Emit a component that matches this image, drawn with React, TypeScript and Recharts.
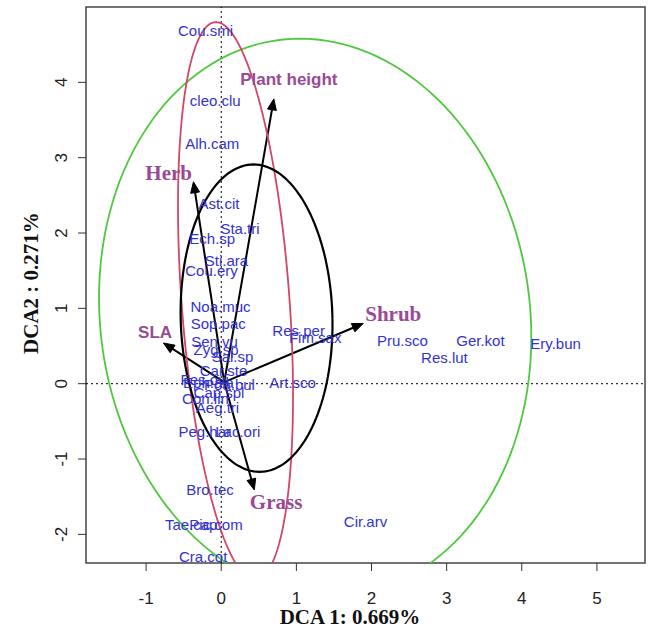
import React from 'react';
import { ScatterChart, Scatter, XAxis, YAxis, ReferenceLine, ReferenceArea } from 'recharts';

// ---- axes ----
const xDomain = [-1.8, 5.64];
const yDomain = [-2.38, 5.0];
const xTicks = [-1, 0, 1, 2, 3, 4, 5];
const yTicks = [-2, -1, 0, 1, 2, 3, 4];

// ---- species scores (label centres) ----
const speciesNames = [
  'Cou.smi', 'cleo.clu', 'Alh.cam', 'Ast.cit', 'Sta.tri', 'Ech.sp', 'Sti.ara', 'Cou.ery',
  'Noa.muc', 'Sop.pac', 'Sen.vu', 'Zyg.sp', 'Sal.sp', 'Car.ste', 'Fes.ovi', 'Eph.ala',
  'Poa.bul', 'Cap.spl', 'Con.lin', 'Aeg.tri', 'Peg.har', 'Lac.ori', 'Bro.tec', 'Tae.cap',
  'Pic.com', 'Cra.cot', 'Res.per', 'Fim.sax', 'Art.sco', 'Pru.sco', 'Ger.kot', 'Res.lut',
  'Ery.bun', 'Cir.arv',
];
const speciesX = [
  -0.21, -0.08, -0.12, -0.03, 0.25, -0.12, 0.07, -0.13,
  -0.01, -0.04, -0.09, -0.07, 0.15, 0.03, -0.22, -0.17,
  0.11, -0.03, -0.21, -0.05, -0.22, 0.22, -0.15, -0.4,
  -0.07, -0.24, 1.03, 1.25, 0.95, 2.41, 3.45, 2.97,
  4.45, 1.92,
];
const speciesY = [
  4.69, 3.76, 3.19, 2.39, 2.06, 1.93, 1.63, 1.5,
  1.02, 0.8, 0.56, 0.46, 0.36, 0.17, 0.06, 0.01,
  -0.01, -0.12, -0.2, -0.32, -0.64, -0.64, -1.41, -1.87,
  -1.87, -2.3, 0.71, 0.61, 0.01, 0.57, 0.57, 0.35,
  0.54, -1.83,
];

// ---- trait vectors ----
const traitNames = ['Plant height', 'Herb', 'SLA', 'Shrub', 'Grass'];
const traitTipX = [0.7, -0.37, -0.77, 1.89, 0.44];
const traitTipY = [3.78, 2.68, 0.54, 0.8, -1.41];
const traitLabelX = [0.9, -0.7, -0.88, 2.29, 0.73];
const traitLabelY = [4.04, 2.79, 0.68, 0.92, -1.57];
const traitSerif = [false, true, false, true, true];
const arrowOrigin = { x: 0.04, y: 0.02 };

// ---- group ellipses (centre, half-axes, shear) ----
const ellipseColors = ['#4fc83f', '#d2466a', '#000000'];
const ellipseWidths = [1.8, 1.8, 2.2];
const ellipseCX = [1.25, 0.19, 0.47];
const ellipseCY = [0.88, 1.1, 0.87];
const ellipseA = [2.87, 0.72, 1.01];
const ellipseB = [3.7, 3.7, 2.04];
const ellipseC = [-0.2, -0.26, -0.04];

const species = speciesNames.map((name, i) => ({ name, x: speciesX[i], y: speciesY[i] }));
const traitLabels = traitNames.map((name, i) => ({
  name,
  x: traitLabelX[i],
  y: traitLabelY[i],
  serif: traitSerif[i],
}));

const ellipses = ellipseColors.map((color, k) => {
  const pts: { x: number; y: number }[] = [];
  const n = 160;
  for (let i = 0; i <= n; i++) {
    const t = (2 * Math.PI * i) / n;
    pts.push({
      x: ellipseCX[k] + ellipseA[k] * Math.cos(t) + ellipseC[k] * Math.sin(t),
      y: ellipseCY[k] + ellipseB[k] * Math.sin(t),
    });
  }
  return { color, width: ellipseWidths[k], pts };
});

const SANS = '"Liberation Sans", Arial, sans-serif';
const SERIF = '"Liberation Serif", "Times New Roman", serif';
const SPECIES_COLOR = '#3232d2';
const TRAIT_COLOR = '#9a4a95';

const Arrow = (props: any) => {
  const { x1, y1, x2, y2 } = props;
  const dx = x2 - x1;
  const dy = y2 - y1;
  const len = Math.sqrt(dx * dx + dy * dy) || 1;
  const ux = dx / len;
  const uy = dy / len;
  const hl = 11;
  const hw = 4.5;
  const bx = x2 - ux * hl;
  const by = y2 - uy * hl;
  const p1 = `${x2},${y2}`;
  const p2 = `${bx - uy * hw},${by + ux * hw}`;
  const p3 = `${bx + uy * hw},${by - ux * hw}`;
  return (
    <g>
      <line x1={x1} y1={y1} x2={bx} y2={by} stroke="#000" strokeWidth={2} />
      <polygon points={`${p1} ${p2} ${p3}`} fill="#000" stroke="#000" strokeWidth={1} />
    </g>
  );
};

const XTick = (props: any) => {
  const { x, payload } = props;
  return (
    <text x={x} y={598} textAnchor="middle" dominantBaseline="central" fontSize={17} fontFamily={SANS} fill="#222">
      {String(payload.value)}
    </text>
  );
};

const YTick = (props: any) => {
  const { y, payload } = props;
  return (
    <text
      x={62}
      y={y}
      transform={`rotate(-90 62 ${y})`}
      textAnchor="middle"
      dominantBaseline="central"
      fontSize={17}
      fontFamily={SANS}
      fill="#222"
    >
      {String(payload.value)}
    </text>
  );
};

const SpeciesLabel = (props: any) => {
  const { cx, cy, payload } = props;
  return (
    <text x={cx} y={cy} textAnchor="middle" dominantBaseline="central" fontSize={15} fontFamily={SANS} fill={SPECIES_COLOR}>
      {payload.name}
    </text>
  );
};

const TraitLabel = (props: any) => {
  const { cx, cy, payload } = props;
  return (
    <text
      x={cx}
      y={cy}
      textAnchor="middle"
      dominantBaseline="central"
      fontSize={payload.serif ? 21 : 17}
      fontWeight="bold"
      fontFamily={payload.serif ? SERIF : SANS}
      fill={TRAIT_COLOR}
    >
      {payload.name}
    </text>
  );
};

export default function App() {
  return (
    <div style={{ position: 'absolute', left: 0, top: 0, background: '#fff' }}>
      <ScatterChart width={654} height={629} margin={{ top: 7, right: 9, bottom: 0, left: 0 }}>
        <XAxis
          type="number"
          dataKey="x"
          domain={xDomain}
          ticks={xTicks}
          allowDataOverflow
          height={66}
          axisLine={false}
          tickLine={{ stroke: '#333' }}
          tickSize={8}
          tick={<XTick />}
          interval={0}
          label={{
            content: () => (
              <text x={350} y={617} textAnchor="middle" dominantBaseline="central" fontSize={21} fontWeight="bold" fontFamily={SERIF} fill="#111">
                DCA 1: 0.669%
              </text>
            ),
          }}
        />
        <YAxis
          type="number"
          dataKey="y"
          domain={yDomain}
          ticks={yTicks}
          allowDataOverflow
          width={86}
          axisLine={false}
          tickLine={{ stroke: '#333' }}
          tickSize={8}
          tick={<YTick />}
          interval={0}
          label={{
            content: () => (
              <text
                x={31}
                y={283}
                transform="rotate(-90 31 283)"
                textAnchor="middle"
                dominantBaseline="central"
                fontSize={21}
                fontWeight="bold"
                fontFamily={SERIF}
                fill="#111"
              >
                DCA2 : 0.271%
              </text>
            ),
          }}
        />
        <ReferenceArea
          x1={xDomain[0]}
          x2={xDomain[1]}
          y1={yDomain[0]}
          y2={yDomain[1]}
          fill="none"
          fillOpacity={0}
          stroke="#444"
          strokeWidth={1.5}
          ifOverflow="visible"
        />
        <ReferenceLine x={0} stroke="#000" strokeDasharray="2 3" strokeWidth={1} />
        <ReferenceLine y={0} stroke="#000" strokeDasharray="2 3" strokeWidth={1} />
        {ellipses.map((e, k) => (
          <Scatter
            key={`ell-${k}`}
            data={e.pts}
            line={{ stroke: e.color, strokeWidth: e.width }}
            shape={() => <g />}
            isAnimationActive={false}
            legendType="none"
          />
        ))}
        {traitNames.map((n, i) => (
          <ReferenceLine
            key={`arr-${n}`}
            segment={[
              { x: arrowOrigin.x, y: arrowOrigin.y },
              { x: traitTipX[i], y: traitTipY[i] },
            ]}
            shape={Arrow}
            ifOverflow="visible"
          />
        ))}
        <Scatter data={species} shape={SpeciesLabel} isAnimationActive={false} legendType="none" />
        <Scatter data={traitLabels} shape={TraitLabel} isAnimationActive={false} legendType="none" />
      </ScatterChart>
    </div>
  );
}
